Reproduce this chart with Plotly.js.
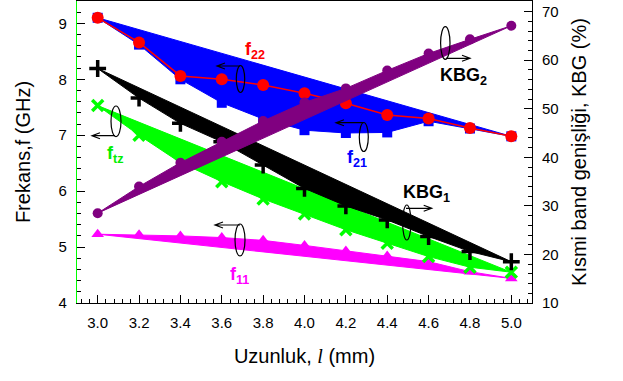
<!DOCTYPE html>
<html>
<head>
<meta charset="utf-8">
<script src="https://cdn.plot.ly/plotly-3.0.1.min.js"></script>
<style>html,body{margin:0;padding:0;background:#fff;}</style>
</head>
<body>
<div id="chart" style="width:623px;height:381px;"></div>
<script>
// ---- data ----
const lengths = [3.0, 3.2, 3.4, 3.6, 3.8, 4.0, 4.2, 4.4, 4.6, 4.8, 5.0];
const f22 = [9.10, 8.66, 8.06, 8.00, 7.90, 7.75, 7.57, 7.36, 7.30, 7.13, 6.98];
const f21 = [9.10, 8.62, 8.00, 7.58, 7.29, 7.09, 7.04, 7.05, 7.25, 7.12, 6.98];
const ftz = [7.53, 7.00, 6.51, 6.17, 5.86, 5.59, 5.31, 5.07, 4.83, 4.64, 4.55];
const f11 = [5.23, 5.22, 5.20, 5.17, 5.12, 5.03, 4.93, 4.84, 4.74, 4.56, 4.44];
const kbg1 = [58.3, 52.2, 47.0, 43.2, 38.4, 33.6, 30.0, 27.1, 23.7, 20.6, 18.5];
const kbg2 = [28.5, 34.0, 38.9, 43.2, 47.5, 51.3, 54.2, 57.9, 61.4, 64.3, 67.1];
const xTicks = [3.0, 3.2, 3.4, 3.6, 3.8, 4.0, 4.2, 4.4, 4.6, 4.8, 5.0];

const FONT = 'Liberation Sans, Arial, sans-serif';

// band = markers (underneath) + chord between end points + data polyline filled to chord
function band(name, x, y, color, marker, yaxis) {
  const n = x.length;
  const mk = Object.assign({color: color}, marker);
  return [
    {type: 'scatter', name: name + ' points', x: x, y: y, yaxis: yaxis, mode: 'markers',
     marker: mk, showlegend: false, hoverinfo: 'skip'},
    {type: 'scatter', name: name + ' chord', x: [x[0], x[n - 1]], y: [y[0], y[n - 1]], yaxis: yaxis,
     mode: 'lines', line: {color: color, width: 1}, showlegend: false, hoverinfo: 'skip'},
    {type: 'scatter', name: name, x: x, y: y, yaxis: yaxis, mode: 'lines',
     line: {color: color, width: 1}, fill: 'tonexty', fillcolor: color, showlegend: false}
  ];
}

const traces = [].concat(
  band('f11', lengths, f11, '#FF00FF', {symbol: 'triangle-up', size: 11}, 'y'),
  band('f21', lengths, f21, '#0000FF', {symbol: 'square', size: 10}, 'y'),
  [{type: 'scatter', name: 'f22', x: lengths, y: f22, yaxis: 'y', mode: 'lines+markers',
    line: {color: '#FF0000', width: 1.5}, marker: {symbol: 'circle', size: 12, color: '#FF0000'},
    showlegend: false}],
  band('ftz', lengths, ftz, '#00FF00', {symbol: 'x-thin', size: 11, line: {color: '#00FF00', width: 3.5}}, 'y'),
  band('KBG1', lengths, kbg1, '#000000', {symbol: 'cross-thin', size: 12, line: {color: '#000000', width: 3.5}}, 'y2'),
  band('KBG2', lengths, kbg2, '#800080', {symbol: 'circle', size: 10}, 'y2')
);

// ---- decorations (pixel positions -> paper fractions) ----
const PL = 77, PR = 532, PT = 1, PB = 303;
const px = v => (v - PL) / (PR - PL);
const py = v => (PB - v) / (PB - PT);

function ellipse(cx, cy, rx, ry) {
  return {type: 'circle', xref: 'paper', yref: 'paper',
    x0: px(cx - rx), x1: px(cx + rx), y0: py(cy + ry), y1: py(cy - ry),
    line: {color: '#000', width: 1.2}};
}
function arrow(tx, ty, hx, hy) {
  const d = hx < tx ? 1 : -1;
  const p = `M${px(tx)},${py(ty)}L${px(hx)},${py(hy)}` +
    `M${px(hx + 8 * d)},${py(hy - 3)}L${px(hx)},${py(hy)}L${px(hx + 8 * d)},${py(hy + 3)}`;
  return {type: 'path', xref: 'paper', yref: 'paper', path: p, line: {color: '#000', width: 1.2}};
}

const shapes = [
  ellipse(240.5, 79, 4.2, 13.5), arrow(240, 66, 217, 66),
  ellipse(116, 121.3, 5, 15.3), arrow(115, 135.7, 92, 135.7),
  ellipse(240, 240, 5, 16), arrow(240, 225, 215, 225),
  ellipse(363.8, 137, 4.5, 14.5), arrow(363.5, 122.7, 336, 122.7),
  ellipse(445.3, 43, 4.7, 16.3), arrow(446, 58.3, 470, 58.3),
  ellipse(406.8, 222.5, 4.2, 17.5), arrow(406, 208.3, 431.7, 208.3)
];

function label(text, cx, cy, color) {
  return {xref: 'paper', yref: 'paper', x: px(cx), y: py(cy), xanchor: 'center', yanchor: 'middle',
    text: '<b>' + text + '</b>', showarrow: false,
    font: {family: FONT, size: 18, color: color}};
}
const annotations = [
  label('f<sub>22</sub>', 255, 50, '#FF0000'),
  label('f<sub>tz</sub>', 115, 155, '#00EE00'),
  label('f<sub>11</sub>', 239, 275, '#FF00FF'),
  label('f<sub>21</sub>', 357, 158, '#0000FF'),
  label('KBG<sub>2</sub>', 463, 76, '#000000'),
  label('KBG<sub>1</sub>', 426, 193, '#000000')
];

const tickFont = {family: FONT, size: 15, color: '#000'};
const titleFont = {family: FONT, size: 20, color: '#000'};

const layout = {
  width: 623, height: 381,
  margin: {l: PL, r: 623 - PR, t: PT, b: 381 - PB},
  paper_bgcolor: '#fff', plot_bgcolor: '#fff',
  showlegend: false,
  xaxis: {
    range: [2.9, 5.1], tickvals: xTicks, ticktext: xTicks.map(v => v.toFixed(1)),
    showgrid: false, zeroline: false,
    showline: true, linecolor: '#000', linewidth: 1, mirror: true,
    ticks: 'inside', ticklen: 8, tickcolor: '#000', tickwidth: 1,
    minor: {dtick: 0.04, tick0: 3.0, ticks: 'inside', ticklen: 4, tickcolor: '#000', showgrid: false},
    tickfont: tickFont, ticklabelstandoff: 6,
    title: {text: 'Uzunluk, <span style="font-family:Liberation Serif;font-style:italic">l</span> (mm)',
            font: titleFont, standoff: 18}
  },
  yaxis: {
    range: [4, 9.4], dtick: 1, tick0: 4,
    showgrid: false, zeroline: false,
    showline: true, linecolor: '#00FF00', linewidth: 1.2,
    ticks: 'inside', ticklen: 8, tickcolor: '#000', tickwidth: 1,
    minor: {dtick: 0.2, ticks: 'inside', ticklen: 4, tickcolor: '#000', showgrid: false},
    tickfont: tickFont, ticklabelstandoff: 6,
    title: {text: 'Frekans,f (GHz)', font: titleFont, standoff: 22}
  },
  yaxis2: {
    overlaying: 'y', side: 'right', anchor: 'x',
    range: [10, 72.2], dtick: 10, tick0: 10,
    showgrid: false, zeroline: false,
    showline: true, linecolor: '#000', linewidth: 1,
    ticks: 'inside', ticklen: 8, tickcolor: '#000', tickwidth: 1,
    minor: {dtick: 2, ticks: 'inside', ticklen: 4, tickcolor: '#000', showgrid: false},
    tickfont: tickFont, ticklabelstandoff: 6,
    title: {text: 'Kısmi band genişliği, KBG (%)', font: titleFont, standoff: 14}
  },
  shapes: shapes,
  annotations: annotations
};

Plotly.newPlot('chart', traces, layout, {staticPlot: true, displayModeBar: false});
</script>
</body>
</html>
